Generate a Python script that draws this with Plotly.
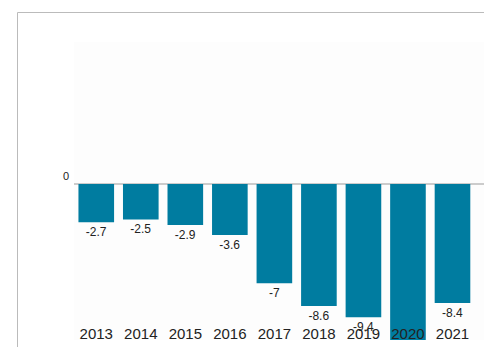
import plotly.graph_objects as go

years = ["2013", "2014", "2015", "2016", "2017", "2018", "2019", "2020", "2021"]
values = [-2.7, -2.5, -2.9, -3.6, -7.0, -8.6, -9.4, -11.0, -8.4]
labels = ["-2.7", "-2.5", "-2.9", "-3.6", "-7", "-8.6", "-9.4", "", "-8.4"]

# page body has an 8px margin, so the figure is drawn 8px in from the window edge
W, H = 484, 339
L, R, T, B = 66, 5, 34, 7
pw, ph = W - L - R, H - T - B

fig = go.Figure(go.Bar(
    x=years, y=values, text=labels, textposition="outside",
    textfont=dict(family="Liberation Sans, Arial", size=12, color="#222"),
    marker=dict(color="#007ca0", line=dict(width=0)),
    width=0.8, cliponaxis=True,
))

def px_x(p):
    return (p - L) / pw

def px_y(p):
    return (H - B - p) / ph

fig.update_layout(
    width=W, height=H,
    margin=dict(l=L, r=R, t=T, b=B, autoexpand=False),
    paper_bgcolor="white", plot_bgcolor="#fdfdfd",
    showlegend=False,
    font=dict(family="Liberation Sans, Arial", color="#222"),
    xaxis=dict(
        type="category", range=[-0.5, 8.775], showgrid=False, zeroline=False,
        showline=False, ticks="", ticklabelposition="inside", ticklabelstandoff=-5,
        tickfont=dict(size=15, color="#222"),
    ),
    yaxis=dict(
        range=[-11, 10], tickvals=[0], ticktext=["0"], showgrid=False,
        zeroline=True, zerolinecolor="#cccccc", zerolinewidth=2,
        showline=False, ticks="", ticklabelposition="outside top", ticklabelstandoff=4,
        tickfont=dict(size=11, color="#222"),
    ),
    shapes=[
        dict(type="line", xref="paper", yref="paper", x0=px_x(9.5), x1=px_x(484), y0=px_y(4.5), y1=px_y(4.5),
             line=dict(color="#bbbbbb", width=1)),
        dict(type="line", xref="paper", yref="paper", x0=px_x(9.5), x1=px_x(9.5), y0=px_y(4.5), y1=px_y(339),
             line=dict(color="#bbbbbb", width=1)),
    ],
)

fig.write_html("out.html")
